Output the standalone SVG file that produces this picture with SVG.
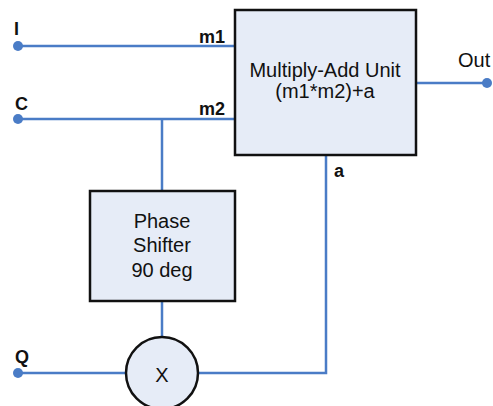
<svg xmlns="http://www.w3.org/2000/svg" width="493" height="406" viewBox="0 0 493 406">
<style>
.w{fill:none;stroke:#4a7cc6;stroke-width:2.5}
.d{fill:#4a7cc6}
.box{fill:#e6ecf7;stroke:#111;stroke-width:2.5}
.t{font-family:"Liberation Sans",Arial,sans-serif;font-size:20px;fill:#111;text-anchor:middle}
.l{font-family:"Liberation Sans",Arial,sans-serif;font-size:18px;font-weight:bold;fill:#111}
.o{font-family:"Liberation Sans",Arial,sans-serif;font-size:20px;fill:#111}
</style>
<rect width="493" height="406" fill="#fff"/>
<g id="connectors">
<path class="w" d="M18 46H235"/>
<path class="w" d="M18 119H235"/>
<path class="w" d="M162 119V191"/>
<path class="w" d="M162 301V337"/>
<path class="w" d="M416 83H487"/>
<path class="w" d="M326 155V373H198"/>
<path class="w" d="M18 373H126"/>
<circle class="d" cx="18" cy="46" r="5"/>
<circle class="d" cx="18" cy="119" r="5"/>
<circle class="d" cx="18" cy="373" r="5"/>
<circle class="d" cx="487" cy="83" r="5"/>
<text class="l" x="199" y="43">m1</text>
<text class="l" x="199" y="115">m2</text>
<text class="l" x="334" y="177">a</text>
</g>
<g id="in-I"><text class="l" x="14" y="35">I</text></g>
<g id="in-C"><text class="l" x="15" y="110">C</text></g>
<g id="in-Q"><text class="l" x="15" y="363">Q</text></g>
<g id="out"><text class="o" x="458" y="67">Out</text></g>
<g id="mac">
<rect class="box" x="235" y="10" width="181" height="145"/>
<text class="t" x="325" y="77">Multiply-Add Unit</text>
<text class="t" x="325" y="98">(m1*m2)+a</text>
</g>
<g id="phase">
<rect class="box" x="90" y="191" width="145" height="110"/>
<text class="t" x="162" y="228">Phase</text>
<text class="t" x="162" y="252">Shifter</text>
<text class="t" x="162" y="277">90 deg</text>
</g>
<g id="mult">
<circle class="box" cx="162" cy="373" r="36"/>
<text class="t" x="162" y="382">X</text>
</g>
</svg>
